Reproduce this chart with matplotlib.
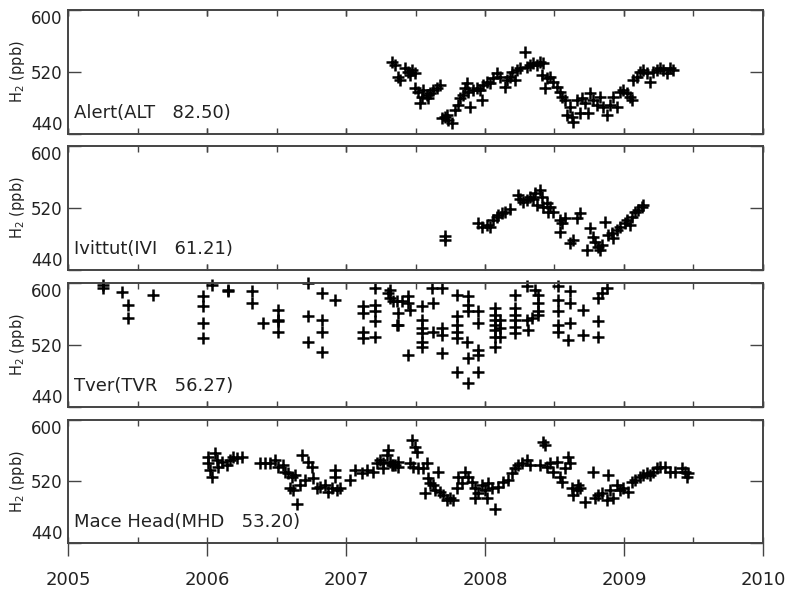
import numpy as np
import matplotlib.pyplot as plt
from matplotlib.ticker import MultipleLocator, FixedLocator

# H2 flask samples, (decimal year, ppb)
alt = [(2007.329,533.3),(2007.353,529.0),(2007.377,514.0),(2007.389,509.7),(2007.425,524.7),(2007.449,520.4),
       (2007.473,522.6),(2007.497,518.3),(2007.461,516.1),(2007.497,498.9),(2007.520,494.6),(2007.532,479.6),
       (2007.556,496.8),(2007.580,490.3),(2007.604,492.5),(2007.628,496.8),(2007.652,498.9),(2007.676,503.2),
       (2007.544,488.2),(2007.592,486.0),(2007.688,460.2),(2007.712,462.4),(2007.736,458.1),(2007.760,453.8),
       (2007.724,464.5),(2007.784,471.0),(2007.808,477.4),(2007.820,486.0),(2007.844,490.3),(2007.856,498.9),
       (2007.868,505.4),(2007.892,475.3),(2007.880,494.6),(2007.916,496.8),(2007.940,498.9),(2007.964,496.8),
       (2007.976,483.9),(2007.988,503.2),(2008.012,507.5),(2008.036,505.4),(2008.060,511.8),(2008.084,518.3),
       (2008.108,514.0),(2008.144,501.1),(2008.156,509.7),(2008.180,514.0),(2008.192,520.4),(2008.216,509.7),
       (2008.228,522.6),(2008.252,524.7),(2008.288,546.2),(2008.300,526.9),(2008.324,529.0),(2008.348,531.2),
       (2008.372,529.0),(2008.396,533.3),(2008.420,531.2),(2008.408,516.1),(2008.432,498.9),(2008.444,511.8),
       (2008.468,514.0),(2008.492,507.5),(2008.516,501.1),(2008.540,494.6),(2008.552,488.2),(2008.576,483.9),
       (2008.588,464.5),(2008.612,475.3),(2008.624,462.4),(2008.636,455.9),(2008.660,483.9),(2008.684,466.7),
       (2008.696,486.0),(2008.720,479.6),(2008.744,466.7),(2008.756,492.5),(2008.780,483.9),(2008.804,477.4),
       (2008.828,488.2),(2008.852,475.3),(2008.876,464.5),(2008.900,477.4),(2008.924,488.2),(2008.948,475.3),
       (2008.972,494.6),(2008.996,496.8),(2009.020,492.5),(2009.044,488.2),(2009.056,483.9),(2009.068,509.7),
       (2009.092,514.0),(2009.116,520.4),(2009.140,522.6),(2009.163,518.3),(2009.187,507.5),(2009.211,520.4),
       (2009.235,522.6),(2009.259,524.7),(2009.283,522.6),(2009.307,518.3),(2009.331,524.7),(2009.355,522.6)]

ivi = [(2007.713,483.9),(2007.713,478.6),(2007.952,500.0),(2007.976,495.8),(2008.012,497.9),(2008.036,495.8),
       (2008.060,504.3),(2008.084,508.6),(2008.096,510.8),(2008.120,512.9),(2008.144,515.1),(2008.180,519.3),
       (2008.240,536.5),(2008.252,532.2),(2008.276,528.0),(2008.300,530.1),(2008.324,534.4),(2008.348,532.2),
       (2008.360,538.7),(2008.396,543.0),(2008.372,523.6),(2008.408,534.4),(2008.420,521.5),(2008.444,525.8),
       (2008.468,521.5),(2008.456,515.1),(2008.492,515.1),(2008.540,504.3),(2008.552,500.0),(2008.540,489.3),
       (2008.576,506.5),(2008.612,474.3),(2008.636,478.6),(2008.660,506.5),(2008.684,512.9),(2008.756,493.6),
       (2008.732,465.7),(2008.780,482.9),(2008.792,476.5),(2008.816,470.0),(2008.828,465.7),(2008.840,472.2),
       (2008.864,502.2),(2008.888,485.0),(2008.912,487.2),(2008.924,480.7),(2008.948,491.5),(2008.972,495.8),
       (2009.008,500.0),(2009.020,504.3),(2009.044,497.9),(2009.056,508.6),(2009.080,515.1),(2009.104,517.2),
       (2009.128,521.5),(2009.140,523.6)]

tvr = [(2005.254,597.8),(2005.254,593.5),(2005.386,587.9),(2005.434,571.9),(2005.434,554.6),(2005.614,584.9),
       (2005.969,582.7),(2005.969,569.7),(2005.969,548.1),(2005.969,528.7),(2006.034,597.8),(2006.154,591.4),
       (2006.154,589.2),(2006.322,589.2),(2006.322,574.1),(2006.405,548.1),(2006.513,565.4),(2006.513,550.3),
       (2006.513,537.3),(2006.513,552.4),(2006.729,600.0),(2006.729,556.8),(2006.729,524.3),(2006.825,587.0),
       (2006.825,552.4),(2006.825,537.3),(2006.825,511.4),(2006.921,578.4),(2007.125,569.7),(2007.125,561.1),
       (2007.125,537.3),(2007.125,528.7),(2007.209,593.5),(2007.209,571.9),(2007.209,563.2),(2007.209,550.3),
       (2007.209,530.8),(2007.305,587.0),(2007.317,580.5),(2007.365,576.2),(2007.365,546.0),(2007.317,591.4),
       (2007.341,576.2),(2007.377,561.1),(2007.377,546.0),(2007.401,576.2),(2007.449,582.7),(2007.449,574.1),
       (2007.461,565.4),(2007.449,507.1),(2007.545,569.7),(2007.545,552.4),(2007.545,541.6),(2007.545,535.1),
       (2007.545,524.3),(2007.545,517.8),(2007.617,593.5),(2007.689,593.5),(2007.629,574.1),(2007.629,537.3),
       (2007.689,541.6),(2007.689,532.9),(2007.689,509.2),(2007.797,584.9),(2007.880,582.7),(2007.880,571.9),
       (2007.880,563.2),(2007.797,556.8),(2007.797,546.0),(2007.797,537.3),(2007.797,528.7),(2007.797,485.4),
       (2007.869,524.3),(2007.880,502.7),(2007.880,470.3),(2007.952,563.2),(2007.952,548.1),(2007.952,513.5),
       (2007.952,507.1),(2007.952,485.4),(2008.072,567.6),(2008.072,558.9),(2008.072,552.4),(2008.072,546.0),
       (2008.072,539.5),(2008.072,530.8),(2008.072,517.8),(2008.108,552.4),(2008.108,541.6),(2008.108,530.8),
       (2008.216,584.9),(2008.216,567.6),(2008.216,558.9),(2008.216,552.4),(2008.216,543.8),(2008.216,535.1),
       (2008.300,595.7),(2008.300,552.4),(2008.312,539.5),(2008.336,554.6),(2008.360,591.4),(2008.384,584.9),
       (2008.384,574.1),(2008.384,563.2),(2008.384,558.9),(2008.528,595.7),(2008.528,578.4),(2008.528,563.2),
       (2008.528,546.0),(2008.528,537.3),(2008.612,589.2),(2008.612,574.1),(2008.612,548.1),(2008.600,526.5),
       (2008.708,565.4),(2008.708,533.0),(2008.816,550.3),(2008.816,530.8),(2008.816,580.5),(2008.840,587.0),
       (2008.876,593.5)]

mhd = [(2006.010,552.2),(2006.010,543.5),(2006.022,534.8),(2006.034,526.1),(2006.058,556.6),(2006.070,547.9),
       (2006.082,539.2),(2006.106,545.7),(2006.142,541.3),(2006.166,547.9),(2006.190,552.2),(2006.214,550.0),
       (2006.250,552.2),(2006.381,543.5),(2006.417,543.5),(2006.453,543.5),(2006.489,547.9),(2006.513,539.2),
       (2006.549,541.3),(2006.561,532.6),(2006.585,530.5),(2006.609,526.1),(2006.633,528.3),(2006.597,510.9),
       (2006.621,508.7),(2006.645,491.3),(2006.669,515.2),(2006.681,554.4),(2006.705,521.8),(2006.729,545.7),
       (2006.753,539.2),(2006.765,524.0),(2006.789,510.9),(2006.813,513.1),(2006.849,515.2),(2006.873,506.6),
       (2006.897,510.9),(2006.921,534.8),(2006.933,508.7),(2006.921,526.1),(2006.957,510.9),(2007.029,521.8),
       (2007.065,534.8),(2007.113,530.5),(2007.149,534.8),(2007.197,532.6),(2007.221,543.5),(2007.245,547.9),
       (2007.269,537.0),(2007.305,560.9),(2007.329,541.3),(2007.353,541.3),(2007.377,545.7),(2007.269,543.5),
       (2007.293,554.4),(2007.317,545.7),(2007.341,541.3),(2007.377,539.2),(2007.473,573.9),(2007.497,565.3),
       (2007.509,558.7),(2007.461,543.5),(2007.485,539.2),(2007.521,537.0),(2007.557,537.0),(2007.581,543.5),
       (2007.569,504.4),(2007.593,524.0),(2007.605,517.4),(2007.629,515.2),(2007.665,532.6),(2007.641,508.7),
       (2007.677,506.6),(2007.701,502.2),(2007.725,495.7),(2007.749,497.9),(2007.773,495.7),(2007.797,510.9),
       (2007.809,526.1),(2007.833,517.4),(2007.857,532.6),(2007.881,526.1),(2007.905,519.6),(2007.928,510.9),
       (2007.928,497.9),(2007.952,504.4),(2007.976,515.2),(2008.000,508.7),(2008.012,497.9),(2008.024,517.4),
       (2008.048,510.9),(2008.072,484.8),(2008.096,513.1),(2008.132,519.6),(2008.168,521.8),(2008.192,530.5),
       (2008.216,537.0),(2008.240,541.3),(2008.264,543.5),(2008.300,547.9),(2008.324,541.3),(2008.420,571.8),
       (2008.432,567.4),(2008.396,541.3),(2008.444,539.2),(2008.468,543.5),(2008.492,532.6),(2008.516,545.7),
       (2008.540,526.1),(2008.552,519.6),(2008.576,537.0),(2008.600,552.2),(2008.612,543.5),(2008.624,510.9),
       (2008.636,502.2),(2008.660,508.7),(2008.672,515.2),(2008.684,510.9),(2008.720,493.5),(2008.780,532.6),
       (2008.792,497.9),(2008.816,502.2),(2008.840,504.4),(2008.888,528.3),(2008.876,495.7),(2008.900,508.7),
       (2008.924,497.9),(2008.948,515.2),(2008.972,508.7),(2008.996,510.9),(2009.032,506.6),(2009.056,519.6),
       (2009.080,521.8),(2009.116,526.1),(2009.140,528.3),(2009.163,530.5),(2009.187,528.3),(2009.211,532.6),
       (2009.235,537.0),(2009.259,539.2),(2009.295,539.2),(2009.331,532.6),(2009.367,532.6),(2009.415,537.0),
       (2009.439,532.6),(2009.451,526.1),(2009.463,530.5)]

stations = [alt, ivi, tvr, mhd]
labels = ['Alert(ALT   82.50)', 'Ivittut(IVI   61.21)', 'Tver(TVR   56.27)', 'Mace Head(MHD   53.20)']
yticks = [440, 520, 600]
xticks = [2005, 2006, 2007, 2008, 2009, 2010]

fig = plt.figure(figsize=(7.9, 5.9), dpi=100)
fc = '#222222'
# panel boxes in figure fractions (left, bottom, width, height)
boxes = [(0.0861, 0.7729, 0.8797, 0.2102),
         (0.0861, 0.5424, 0.8797, 0.2102),
         (0.0861, 0.3102, 0.8797, 0.2102),
         (0.0861, 0.0797, 0.8797, 0.2085)]

for k in range(4):
    ax = fig.add_axes(boxes[k])
    x = [p[0] for p in stations[k]]
    y = [p[1] for p in stations[k]]
    ax.plot(x, y, linestyle='none', marker='+', markersize=9, mew=1.8, color='black', clip_on=False)
    ax.set_xlim(2005, 2010)
    ax.set_ylim(440, 600)
    for s in ax.spines.values():
        s.set_color('#444444')
        s.set_linewidth(1.4)

    ax.set_yticks(yticks)
    ax.set_yticklabels([str(v) for v in yticks])
    ax.tick_params(axis='y', which='major', direction='in', length=9.5, width=1.0,
                   left=True, right=True, labelsize=12, labelcolor=fc, color='#444444', pad=4)
    tl = ax.get_yticklabels()
    tl[0].set_verticalalignment('bottom')
    tl[-1].set_verticalalignment('top')

    ax.xaxis.set_major_locator(FixedLocator(xticks))
    ax.xaxis.set_minor_locator(MultipleLocator(0.5))
    ax.xaxis.remove_overlapping_locs = False
    ax.tick_params(axis='x', which='minor', direction='in', length=4, width=1.0,
                   top=True, bottom=True, color='#444444')
    if k < 3:
        ax.tick_params(axis='x', which='major', direction='in', length=4, width=1.0,
                       top=True, bottom=True, labelbottom=False, color='#444444')
    else:
        ax.tick_params(axis='x', which='major', direction='out', length=9, width=1.0,
                       top=False, bottom=True, labelsize=13, labelcolor=fc, color='#444444', pad=11)

    ax.set_ylabel('H$_2$ (ppb)', fontsize=10.5, color=fc)
    ax.yaxis.set_label_coords(-0.059, 0.5)
    ax.text(0.009, 0.13, labels[k], transform=ax.transAxes, fontsize=13, color=fc,
            ha='left', va='baseline')

fig.savefig('out.png', dpi=100)
